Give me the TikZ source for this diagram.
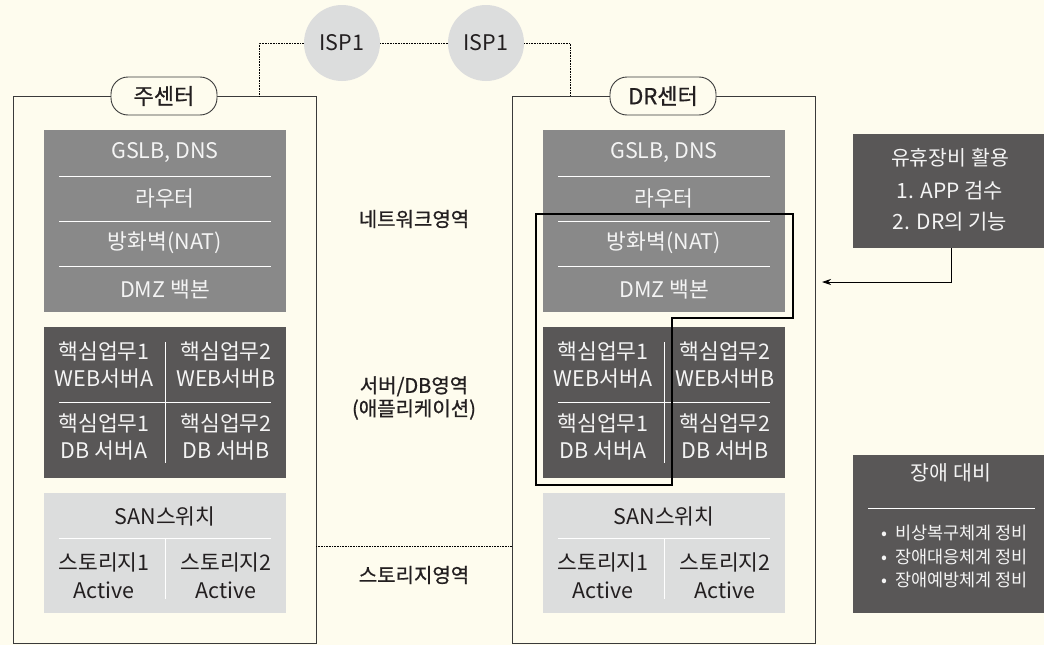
\documentclass[tikz,border=0pt]{standalone}
\usepackage{fontspec}
\setmainfont{Noto Sans CJK KR}
\newfontfamily\medfont[FakeBold=0.8]{Noto Sans CJK KR}
\usetikzlibrary{arrows.meta}
\definecolor{cream}{HTML}{FEFCEE}
\definecolor{netgray}{HTML}{898989}
\definecolor{srvgray}{HTML}{595757}
\definecolor{lightg}{HTML}{DCDDDD}
\definecolor{boxline}{HTML}{3A3A3A}
\definecolor{wtext}{HTML}{F4F4F4}
\definecolor{ktext}{HTML}{231F20}
\newcommand\fsz[2]{\fontsize{#1}{#2}\selectfont}
\tikzset{
  outer/.style={draw=boxline, line width=0.9pt, anchor=north west, inner sep=0pt, minimum width=303pt, minimum height=547pt},
  pill/.style={draw=boxline, fill=cream, line width=0.9pt, rounded corners=17pt, minimum width=106pt, minimum height=38pt, font=\medfont\fsz{22}{24}, text=ktext, inner sep=0pt},
  blk/.style={anchor=north west, inner sep=0pt, minimum width=242pt},
  wline/.style={draw=white, line width=1pt},
  wtxt/.style={text=wtext, font=\fsz{21.5}{27}, inner sep=0pt, align=center},
  ktxt/.style={text=ktext, font=\fsz{21.5}{28}, inner sep=0pt, align=center},
  lbl/.style={text=ktext, font=\medfont\fsz{20}{23}, inner sep=0pt, align=center},
  isp/.style={circle, fill=lightg, minimum size=76pt, inner sep=0pt, font=\fsz{21.5}{24}, text=ktext},
  dotline/.style={draw=black, line width=0.7pt, dash pattern=on 0.7pt off 0.9pt},
  hl/.style={draw=black, line width=1.7pt},
  infobox/.style={fill=srvgray, anchor=north west, inner sep=0pt, minimum width=191pt},
  bul/.style={text=wtext, font=\fsz{17.5}{20}, inner sep=0pt, anchor=west},
}
\newcommand\drawsite[3]{%
\begin{scope}[xshift=#2]
  \node[outer] (#1box) at (13,96) {};
  \node[pill] (#1pill) at (164,96) {#3};
  % network
  \node[fill=netgray, blk, minimum height=182pt] (#1net) at (44,130) {};
  \draw[wline] (59,176) -- (271,176);
  \draw[wline] (59,221) -- (271,221);
  \draw[wline] (59,266) -- (271,266);
  \node[wtxt] (#1n1) at (165,153) {GSLB, DNS};
  \node[wtxt] (#1n2) at (165,198) {라우터};
  \node[wtxt] (#1n3) at (165,243) {방화벽(NAT)};
  \node[wtxt] (#1n4) at (165,289) {DMZ 백본};
  % servers
  \node[fill=srvgray, blk, minimum height=151pt] (#1srv) at (44,327) {};
  \draw[wline] (59,402) -- (271,402);
  \draw[wline] (165,342) -- (165,463);
  \node[wtxt] (#1s1) at (104,365) {핵심업무1\\WEB서버A};
  \node[wtxt] (#1s2) at (226,365) {핵심업무2\\WEB서버B};
  \node[wtxt] (#1s3) at (104,437) {핵심업무1\\DB 서버A};
  \node[wtxt] (#1s4) at (226,437) {핵심업무2\\DB 서버B};
  % storage
  \node[fill=lightg, blk, minimum height=120pt] (#1sto) at (44,493) {};
  \draw[wline] (59,538) -- (271,538);
  \draw[wline] (165,538) -- (165,599);
  \node[ktxt] (#1t0) at (165,516) {SAN스위치};
  \node[ktxt] (#1t1) at (104,576) {스토리지1\\Active};
  \node[ktxt] (#1t2) at (226,576) {스토리지2\\Active};
\end{scope}}
\begin{document}
\begin{tikzpicture}[x=1pt,y=-1pt]
  \useasboundingbox (0,0) rectangle (1044,645);
  \fill[cream] (0,0) rectangle (1044,645);
  \drawsite{L}{0pt}{주센터}
  \drawsite{R}{499pt}{DR센터}
  % ISP
  \node[isp] (ispa) at (342,43) {ISP1};
  \node[isp] (ispb) at (486,43) {ISP1};
  \coordinate (la) at (259,96);
  \coordinate (ra) at (570,96);
  \draw[dotline] (ispa.west) -| (la);
  \draw[dotline] (ispa.east) -- (ispb.west);
  \draw[dotline] (ispb.east) -| (ra);
  \coordinate (m1) at (316,546);
  \coordinate (m2) at (512,546);
  \draw[dotline] (m1) -- (m2);
  % middle labels
  \node[lbl] (zn) at (414,219) {네트워크영역};
  \node[lbl] (zs) at (414,398) {서버/DB영역\\(애플리케이션)};
  \node[lbl] (zt) at (414,575) {스토리지영역};
  % highlight outline
  \draw[hl] (536,214) -- (793,214) -- (793,318) -- (672,318) -- (672,485) -- (536,485) -- cycle;
  % info boxes
  \node[infobox, minimum height=114pt] (util) at (853,134) {};
  \node[wtxt, font=\fsz{20.5}{22}] (u0) at (950,158) {유휴장비 활용};
  \node[wtxt, font=\fsz{21}{22}] (u1) at (950,191) {1. APP 검수};
  \node[wtxt, font=\fsz{21}{22}] (u2) at (950,222) {2. DR의 기능};
  \coordinate (ua) at (951,248);
  \coordinate (tip) at (822,282);
  \draw[line width=0.8pt, -{Stealth[length=9pt,width=6pt]}] (ua) |- (tip);
  \node[infobox, minimum height=158pt] (fail) at (853,455) {};
  \node[wtxt, font=\fsz{20.5}{22}] (f0) at (951,473) {장애 대비};
  \draw[wline] (868,508) -- (1035,508);
  \node[bul] (f1) at (881,533) {•\hspace{8pt}비상복구체계 정비};
  \node[bul] (f2) at (881,557) {•\hspace{8pt}장애대응체계 정비};
  \node[bul] (f3) at (881,580) {•\hspace{8pt}장애예방체계 정비};
\end{tikzpicture}
\end{document}
